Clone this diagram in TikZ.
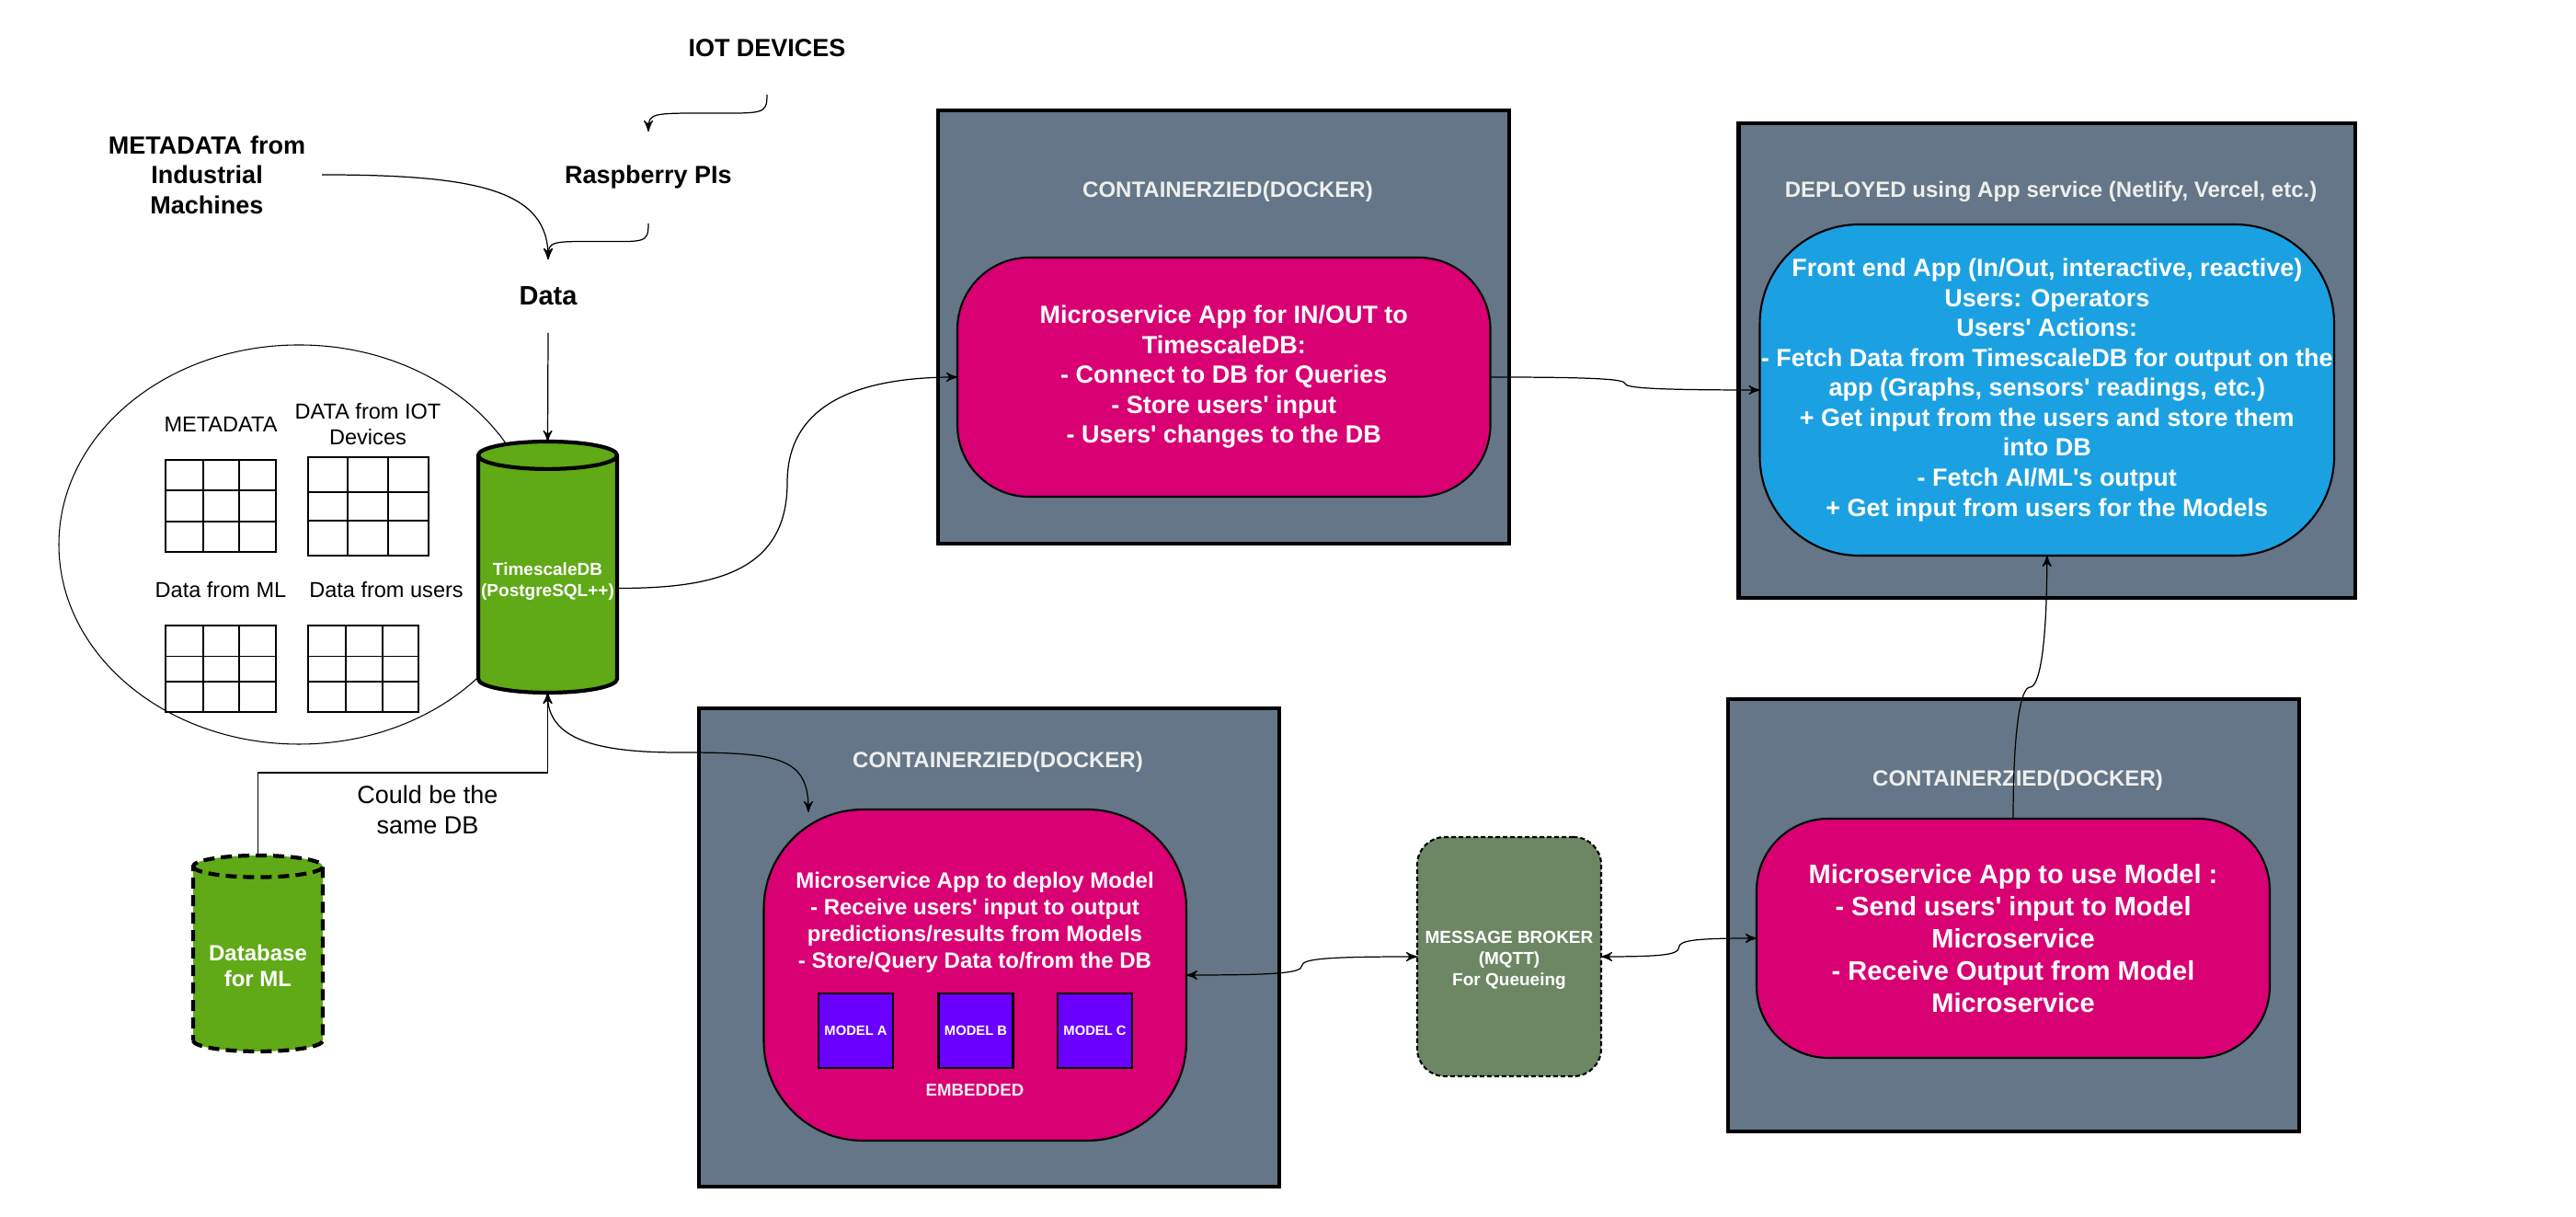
\documentclass[tikz,border=0pt]{standalone}
\usepackage{fontspec}
\setmainfont{Liberation Sans}[Ligatures=TeXOff]
\usetikzlibrary{arrows}
\usetikzlibrary{calc}
\usetikzlibrary{shapes.geometric}
\definecolor{slate}{HTML}{647687}
\definecolor{magenta}{HTML}{D80073}
\definecolor{sky}{HTML}{1BA1E2}
\definecolor{grass}{HTML}{60A917}
\definecolor{violet}{HTML}{6A00FF}
\definecolor{sage}{HTML}{6D8764}
\definecolor{paleword}{HTML}{EEEEEE}
\tikzstyle{container}=[draw=black, fill=slate, line width=1.3pt, outer sep=0pt]
\tikzstyle{app}=[draw=black, line width=.6pt, outer sep=0pt, align=center, text=white, fill=magenta, font=\fontsize{7.68}{9.25}\selectfont\bfseries]
\tikzstyle{paleword}=[text=paleword, align=center, font=\fontsize{6.83}{8.2}\selectfont\bfseries]
\tikzstyle{model}=[draw=black, fill=violet, line width=.6pt, minimum width=.81cm, minimum height=.81cm, inner sep=0pt, text=white, font=\fontsize{4.2}{5}\selectfont\bfseries]
\tikzstyle{blackbold}=[align=center, inner sep=0pt, outer sep=0pt, font=\fontsize{7.68}{9.25}\selectfont\bfseries]
\tikzstyle{plainword}=[align=center, inner sep=0pt, font=\fontsize{6.7}{8.0}\selectfont]
\tikzstyle{db}=[cylinder, shape border rotate=90, draw=black, fill=grass, line width=1.2pt, outer sep=0pt, inner sep=0pt, text=white]
\tikzstyle{whiteword}=[text=white, align=center, inner sep=0pt]
\tikzstyle{tbl}=[line width=.35pt]
\tikzstyle{link}=[line width=.35pt, -stealth']
\tikzstyle{twolink}=[line width=.35pt, stealth'-stealth']
\newcommand{\dbwords}[3]{\raisebox{#1}[\height][\depth]{\begin{tabular}{@{}c@{}}#2\\#3\end{tabular}}}
\begin{document}
\begin{tikzpicture}
      \useasboundingbox (0,0) rectangle (28.01,13.23);

      \node[draw, ellipse, line width=.3pt, minimum width=5.22cm, minimum height=4.34cm] (oval) at (3.25,7.31) {};

      \node[blackbold, minimum height=1.02cm] (iot) at (8.34,12.71) {IOT DEVICES};
      \node[blackbold, minimum height=1cm] (raspi) at (7.05,11.30) {Raspberry PIs};
      \node[blackbold, text width=2.5cm] (metadata) at (2.25,11.33) {METADATA from\\Industrial\\Machines};
      \node[blackbold, minimum height=.8cm, font=\fontsize{8.25}{9.9}\selectfont\bfseries] (data) at (5.96,10.01) {Data};

      \node[plainword] (metalabel) at (2.40,8.62) {METADATA};
      \node[plainword] (iotlabel) at (4.00,8.62) {DATA from IOT\\Devices};
      \node[plainword] (mllabel) at (2.40,6.82) {Data from ML};
      \node[plainword] (userlabel) at (4.20,6.82) {Data from users};
      \node[plainword, font=\fontsize{7.68}{9.4}\selectfont] (samedb) at (4.65,4.425) {Could be the\\same DB};

      \draw[tbl] (1.80,7.23) rectangle (3.00,8.23) (2.21,7.23) -- (2.21,8.23) (2.60,7.23) -- (2.60,8.23) (1.80,7.90) -- (3.00,7.90) (1.80,7.56) -- (3.00,7.56);
      \draw[tbl] (3.35,7.19) rectangle (4.66,8.26) (3.78,7.19) -- (3.78,8.26) (4.22,7.19) -- (4.22,8.26) (3.35,7.88) -- (4.66,7.88) (3.35,7.57) -- (4.66,7.57);
      \draw[tbl] (1.80,5.49) rectangle (3.00,6.43) (2.21,5.49) -- (2.21,6.43) (2.60,5.49) -- (2.60,6.43) (1.80,6.095) -- (3.00,6.095) (1.80,5.82) -- (3.00,5.82);
      \draw[tbl] (3.35,5.49) rectangle (4.55,6.43) (3.76,5.49) -- (3.76,6.43) (4.16,5.49) -- (4.16,6.43) (3.35,6.095) -- (4.55,6.095) (3.35,5.82) -- (4.55,5.82);

      \node[db, aspect=.2066, minimum width=1.51cm, minimum height=2.73cm, font=\fontsize{5.41}{6.54}\selectfont\bfseries, anchor=shape center] (timescale) at (5.955,7.065) {\dbwords{-.07cm}{TimescaleDB}{(PostgreSQL++)}};
      \node[db, dashed, dash pattern=on .12cm off .07cm, aspect=.221, minimum width=1.41cm, minimum height=2.13cm, font=\fontsize{6.83}{8}\selectfont\bfseries, anchor=shape center] (mldb) at (2.805,2.865) {\dbwords{-.09cm}{Database}{for ML}};

      \node[container, minimum width=6.21cm, minimum height=4.71cm] (boxa) at (13.305,9.675) {};
      \node[container, minimum width=6.705cm, minimum height=5.16cm] (boxd) at (22.2575,9.31) {};
      \node[container, minimum width=6.31cm, minimum height=5.2cm] (boxb) at (10.755,2.93) {};
      \node[container, minimum width=6.21cm, minimum height=4.7cm] (boxc) at (21.895,3.28) {};

      \node[paleword] (labela) at (13.35,11.15) {CONTAINERZIED(DOCKER)};
      \node[paleword] (labeld) at (22.30,11.15) {DEPLOYED using App service (Netlify, Vercel, etc.)};
      \node[paleword] (labelb) at (10.85,4.95) {CONTAINERZIED(DOCKER)};
      \node[paleword] (labelc) at (21.94,4.75) {CONTAINERZIED(DOCKER)};

      \node[app, rounded corners=.78cm, minimum width=5.795cm, minimum height=2.6cm] (appa) at (13.3075,9.13) {Microservice App for IN/OUT to\\TimescaleDB:\\- Connect to DB for Queries\\- Store users' input\\- Users' changes to the DB};
      \node[app, rounded corners=1.08cm, minimum width=6.245cm, minimum height=3.6cm, fill=sky, inner sep=0pt] (front) at (22.2575,8.99) {Front end App (In/Out, interactive, reactive)\\Users: Operators\\Users' Actions:\\- Fetch Data from TimescaleDB for output on the\\app (Graphs, sensors' readings, etc.)\\+ Get input from the users and store them\\into DB\\- Fetch AI/ML's output\\+ Get input from users for the Models};
      \node[app, rounded corners=1.08cm, minimum width=4.595cm, minimum height=3.6cm] (appb) at (10.6025,2.63) {};
      \node[app, rounded corners=.78cm, minimum width=5.58cm, minimum height=2.6cm, font=\fontsize{8.25}{9.96}\selectfont\bfseries] (appc) at (21.89,3.03) {Microservice App to use Model :\\- Send users' input to Model\\Microservice\\- Receive Output from Model\\Microservice};

      \node[whiteword, font=\fontsize{6.83}{8.25}\selectfont\bfseries] (appbtext) at (10.60,3.205) {Microservice App to deploy Model\\- Receive users' input to output\\predictions/results from Models\\- Store/Query Data to/from the DB};
      \node[model] (modela) at (9.305,2.025) {MODEL A};
      \node[model] (modelb) at (10.61,2.025) {MODEL B};
      \node[model] (modelc) at (11.905,2.025) {MODEL C};
      \node[paleword, font=\fontsize{5.3}{6.4}\selectfont\bfseries] (embedded) at (10.60,1.38) {EMBEDDED};

      \node[draw=black, fill=sage, line width=.6pt, dash pattern=on .05cm off .03cm, rounded corners=.3cm, minimum width=2cm, minimum height=2.6cm, outer sep=0pt] (broker) at (16.41,2.83) {};
      \node[whiteword, font=\fontsize{5.41}{6.54}\selectfont\bfseries] (brokertext) at (16.41,2.795) {MESSAGE BROKER\\(MQTT)\\For Queueing};

      \coordinate (modelin) at (8.79,4.40);

      \draw[link] (iot.south) .. controls +(0,-.22) and +(.6,0) .. ($(iot.south)!.5!(raspi.north)$) .. controls +(-.6,0) and +(0,.2) .. (raspi.north);
      \draw[link] (raspi.south) .. controls +(0,-.22) and +(.5,0) .. ($(raspi.south)!.5!(data.north)$) .. controls +(-.5,0) and +(0,.2) .. (data.north);
      \draw[link] (metadata.east) .. controls +(1.7,0) and +(0,.75) .. (data.north);
      \draw[link] (data.south) -- (timescale.north);
      \draw[link] (mldb.north) -- ($(mldb.north)+(0,.9)$) -| (timescale.south);
      \draw[twolink] (timescale.south) .. controls +(0,-.5) and +(-.9,0) .. ($(timescale.south)!.5!(modelin)$) .. controls +(1.1,0) and +(0,.6) .. (modelin);
      \draw[link] ([yshift=-.145cm]timescale.east) .. controls +(1,0) and +(0,-1) .. ($([yshift=-.145cm]timescale.east)!.5!(appa.west)$) .. controls +(0,.9) and +(-1,0) .. (appa.west);
      \draw[link] (appa.east) .. controls +(1.1,0) and +(0,.05) .. ($(appa.east)!.5!(front.west)$) .. controls +(0,-.05) and +(-1.1,0) .. (front.west);
      \draw[twolink] (appb.east) .. controls +(.95,0) and +(0,-.08) .. ($(appb.east)!.5!(broker.west)$) .. controls +(0,.08) and +(-.95,0) .. (broker.west);
      \draw[twolink] (broker.east) .. controls +(.65,0) and +(0,-.08) .. ($(broker.east)!.5!(appc.west)$) .. controls +(0,.08) and +(-.65,0) .. (appc.west);
      \draw[link] (appc.north) .. controls +(0,1) and +(-.1,0) .. ($(appc.north)!.5!(front.south)$) .. controls +(.1,0) and +(0,-1) .. (front.south);

    \end{tikzpicture}
\end{document}
